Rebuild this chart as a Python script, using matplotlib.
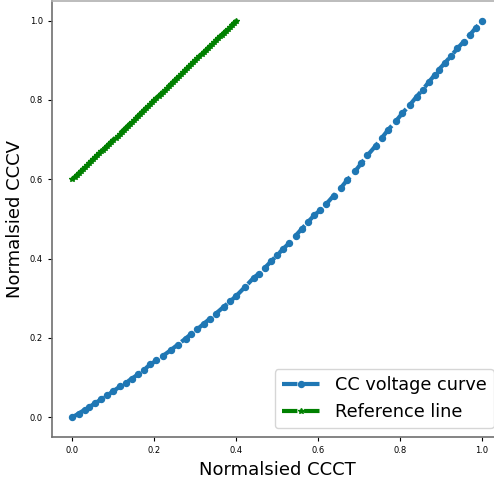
import numpy as np
import matplotlib
matplotlib.use('Agg')
import matplotlib.pyplot as plt

# CC voltage curve (normalised)
ccct = [0.000, 0.015, 0.030, 0.040, 0.055, 0.070, 0.085, 0.100, 0.117, 0.130,
        0.145, 0.160, 0.175, 0.190, 0.205, 0.220, 0.240, 0.257, 0.276, 0.290,
        0.305, 0.320, 0.335, 0.350, 0.370, 0.385, 0.400, 0.420, 0.442, 0.455,
        0.470, 0.485, 0.500, 0.515, 0.528, 0.545, 0.560, 0.575, 0.590, 0.605,
        0.620, 0.638, 0.655, 0.670, 0.690, 0.705, 0.720, 0.740, 0.755, 0.771,
        0.790, 0.805, 0.824, 0.840, 0.855, 0.870, 0.885, 0.894, 0.910, 0.925,
        0.940, 0.955, 0.970, 0.985, 1.000]
cccv = [0.000, 0.009, 0.019, 0.025, 0.035, 0.045, 0.055, 0.066, 0.078, 0.087,
        0.097, 0.108, 0.120, 0.133, 0.143, 0.154, 0.169, 0.183, 0.198, 0.210,
        0.222, 0.235, 0.248, 0.261, 0.279, 0.292, 0.306, 0.327, 0.351, 0.362,
        0.377, 0.393, 0.409, 0.425, 0.438, 0.458, 0.475, 0.492, 0.509, 0.522,
        0.538, 0.559, 0.578, 0.597, 0.620, 0.640, 0.660, 0.684, 0.704, 0.725,
        0.747, 0.766, 0.788, 0.808, 0.826, 0.845, 0.864, 0.876, 0.894, 0.912,
        0.930, 0.947, 0.964, 0.982, 1.000]

# reference line
ref_x = [0.000, 0.005, 0.010, 0.015, 0.020, 0.025, 0.030, 0.035, 0.040, 0.045,
         0.050, 0.055, 0.060, 0.065, 0.070, 0.075, 0.080, 0.085, 0.090, 0.095,
         0.100, 0.105, 0.110, 0.115, 0.120, 0.125, 0.130, 0.135, 0.140, 0.145,
         0.150, 0.155, 0.160, 0.165, 0.170, 0.175, 0.180, 0.185, 0.190, 0.195,
         0.200, 0.205, 0.210, 0.215, 0.220, 0.225, 0.230, 0.235, 0.240, 0.245,
         0.250, 0.255, 0.260, 0.265, 0.270, 0.275, 0.280, 0.285, 0.290, 0.295,
         0.300, 0.305, 0.310, 0.315, 0.320, 0.325, 0.330, 0.335, 0.340, 0.345,
         0.350, 0.355, 0.360, 0.365, 0.370, 0.375, 0.380, 0.385, 0.390, 0.395,
         0.400]
ref_y = [0.600, 0.605, 0.610, 0.615, 0.620, 0.625, 0.630, 0.635, 0.640, 0.645,
         0.650, 0.655, 0.660, 0.665, 0.670, 0.675, 0.680, 0.685, 0.690, 0.695,
         0.700, 0.705, 0.710, 0.715, 0.720, 0.725, 0.730, 0.735, 0.740, 0.745,
         0.750, 0.755, 0.760, 0.765, 0.770, 0.775, 0.780, 0.785, 0.790, 0.795,
         0.800, 0.805, 0.810, 0.815, 0.820, 0.825, 0.830, 0.835, 0.840, 0.845,
         0.850, 0.855, 0.860, 0.865, 0.870, 0.875, 0.880, 0.885, 0.890, 0.895,
         0.900, 0.905, 0.910, 0.915, 0.920, 0.925, 0.930, 0.935, 0.940, 0.945,
         0.950, 0.955, 0.960, 0.965, 0.970, 0.975, 0.980, 0.985, 0.990, 0.995,
         1.000]

fig = plt.figure(figsize=(4.94, 4.78), dpi=100)
ax = fig.add_axes([0.1053, 0.0858, 0.912, 0.9125])

ax.plot(ccct, cccv, '--o', color='#1f77b4', linewidth=3, markersize=4.3,
        label='CC voltage curve')
ax.plot(ref_x, ref_y, '--*', color='green', linewidth=3, markersize=4,
        label='Reference line')

ax.set_xlabel('Normalsied CCCT', fontsize=13)
ax.set_ylabel('Normalsied CCCV', fontsize=13)
ax.tick_params(labelsize=6, length=3, width=0.8)
for s in ax.spines.values():
    s.set_color('#707070')
    s.set_linewidth(1.2)
ax.spines['top'].set_color('#b0b0b0')
ax.spines['right'].set_visible(False)

ax.legend(loc='lower right', fontsize=12.7, handlelength=2.2)

plt.savefig('out.png', dpi=100)
